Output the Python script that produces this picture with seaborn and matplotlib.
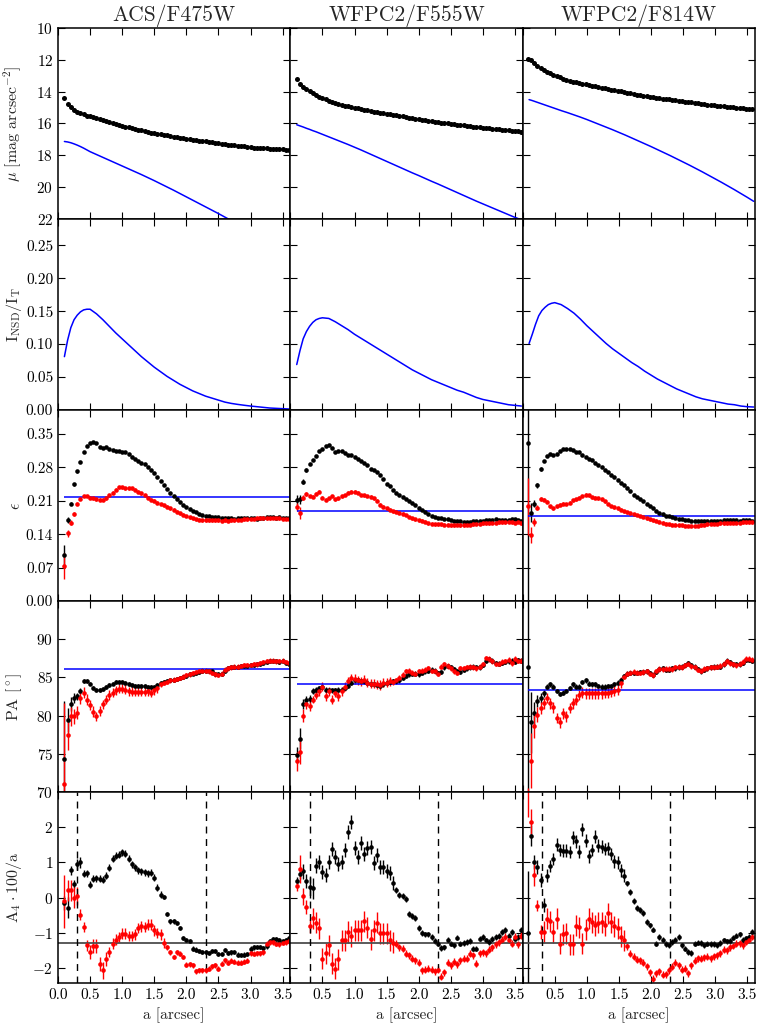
import numpy as np
import matplotlib
matplotlib.use('Agg')
import matplotlib.pyplot as plt
import seaborn as sns
from matplotlib.ticker import FormatStrFormatter

# ---------------- data ----------------
titles = ['ACS/F475W', 'WFPC2/F555W', 'WFPC2/F814W']

# isophote semi-major axes [arcsec]
a_acs = np.round(np.arange(0.10, 3.601, 0.05), 2)
a_f555 = np.round(np.arange(0.10, 3.601, 0.05), 2)
a_f814 = np.round(np.arange(0.08, 3.581, 0.05), 2)
a_model = [0.10, 0.15, 0.20, 0.25, 0.30, 0.35, 0.40, 0.45, 0.50,
           0.6, 0.7, 0.8, 0.9, 1.0, 1.1, 1.2, 1.3, 1.4, 1.5,
           1.6, 1.7, 1.8, 1.9, 2.0, 2.1, 2.2, 2.3, 2.4, 2.5,
           2.6, 2.7, 2.8, 2.9, 3.0, 3.1, 3.2, 3.3, 3.4, 3.5, 3.6]

# surface brightness
mu_acs = [14.40, 14.78, 14.98, 15.13, 15.25, 15.35, 15.43, 15.50, 15.56, 15.62,
          15.68, 15.74, 15.80, 15.86, 15.92, 15.98, 16.03, 16.09, 16.14, 16.19,
          16.24, 16.29, 16.34, 16.39, 16.43, 16.48, 16.52, 16.57, 16.61, 16.65,
          16.68, 16.72, 16.75, 16.79, 16.82, 16.86, 16.89, 16.93, 16.96, 16.99,
          17.02, 17.05, 17.08, 17.10, 17.13, 17.16, 17.19, 17.21, 17.24, 17.27,
          17.29, 17.32, 17.34, 17.37, 17.39, 17.42, 17.44, 17.47, 17.49, 17.51,
          17.52, 17.54, 17.55, 17.57, 17.58, 17.60, 17.61, 17.62, 17.63, 17.64,
          17.65]
mu_f555 = [13.19, 13.50, 13.70, 13.86, 13.99, 14.11, 14.22, 14.32, 14.41, 14.49,
           14.56, 14.63, 14.70, 14.76, 14.81, 14.87, 14.92, 14.97, 15.01, 15.05,
           15.09, 15.13, 15.17, 15.21, 15.25, 15.28, 15.32, 15.35, 15.39, 15.42,
           15.46, 15.49, 15.53, 15.56, 15.60, 15.63, 15.66, 15.70, 15.73, 15.76,
           15.79, 15.82, 15.85, 15.88, 15.91, 15.94, 15.97, 15.99, 16.02, 16.05,
           16.07, 16.10, 16.12, 16.15, 16.17, 16.20, 16.22, 16.25, 16.27, 16.29,
           16.31, 16.33, 16.35, 16.37, 16.39, 16.41, 16.43, 16.45, 16.47, 16.49,
           16.51]
mu_f814 = [11.97, 12.04, 12.22, 12.40, 12.53, 12.64, 12.75, 12.85, 12.95, 13.04,
           13.11, 13.18, 13.25, 13.31, 13.37, 13.42, 13.47, 13.51, 13.55, 13.59,
           13.63, 13.67, 13.71, 13.75, 13.79, 13.83, 13.87, 13.91, 13.95, 13.99,
           14.03, 14.07, 14.10, 14.14, 14.18, 14.21, 14.25, 14.28, 14.31, 14.34,
           14.37, 14.40, 14.43, 14.46, 14.49, 14.52, 14.55, 14.58, 14.61, 14.63,
           14.66, 14.68, 14.71, 14.73, 14.76, 14.78, 14.81, 14.83, 14.86, 14.88,
           14.90, 14.92, 14.94, 14.96, 14.98, 15.00, 15.02, 15.04, 15.06, 15.08,
           15.10]

# nuclear disc model surface brightness
mu_nsd_acs = [17.13, 17.16, 17.21, 17.28, 17.36, 17.45, 17.55, 17.66, 17.77,
              17.95, 18.13, 18.31, 18.49, 18.67, 18.85, 19.03, 19.21, 19.40, 19.59,
              19.79, 19.99, 20.19, 20.40, 20.61, 20.82, 21.03, 21.24, 21.45, 21.66,
              21.88, 22.10, 22.32, 22.54, 22.76, 22.98, 23.20, 23.42, 23.64, 23.86, 24.08]
mu_nsd_f555 = [16.08, 16.15, 16.22, 16.30, 16.37, 16.45, 16.52, 16.60, 16.68,
               16.84, 17.00, 17.16, 17.32, 17.49, 17.66, 17.84, 18.02, 18.20, 18.38,
               18.56, 18.74, 18.92, 19.10, 19.27, 19.45, 19.63, 19.80, 19.98, 20.16,
               20.34, 20.52, 20.70, 20.88, 21.05, 21.22, 21.39, 21.56, 21.73, 21.90, 22.05]
mu_nsd_f814 = [14.50, 14.56, 14.63, 14.70, 14.77, 14.84, 14.91, 14.98, 15.05,
               15.19, 15.32, 15.46, 15.60, 15.75, 15.91, 16.07, 16.23, 16.39, 16.56,
               16.73, 16.91, 17.09, 17.27, 17.45, 17.64, 17.83, 18.02, 18.22, 18.42,
               18.62, 18.83, 19.04, 19.26, 19.48, 19.70, 19.93, 20.16, 20.40, 20.64, 20.89]

# I_NSD / I_T
ratio_acs = [0.081, 0.106, 0.125, 0.137, 0.144, 0.149, 0.152, 0.153, 0.153,
             0.146, 0.137, 0.127, 0.117, 0.108, 0.099, 0.090, 0.081, 0.073, 0.065,
             0.058, 0.051, 0.045, 0.039, 0.034, 0.029, 0.025, 0.021, 0.018, 0.015,
             0.012, 0.010, 0.0085, 0.0072, 0.0060, 0.0050, 0.0040, 0.0030, 0.0025, 0.0020, 0.0015]
ratio_f555 = [0.069, 0.090, 0.108, 0.119, 0.127, 0.133, 0.137, 0.139, 0.140,
              0.139, 0.134, 0.128, 0.122, 0.115, 0.109, 0.103, 0.097, 0.091, 0.085,
              0.079, 0.073, 0.067, 0.061, 0.056, 0.051, 0.046, 0.042, 0.038, 0.034,
              0.030, 0.027, 0.023, 0.019, 0.016, 0.014, 0.012, 0.010, 0.008, 0.007, 0.006]
ratio_f814 = [0.101, 0.115, 0.130, 0.143, 0.151, 0.156, 0.160, 0.162, 0.163,
              0.160, 0.154, 0.147, 0.138, 0.128, 0.119, 0.110, 0.101, 0.093, 0.086,
              0.079, 0.072, 0.066, 0.059, 0.053, 0.047, 0.042, 0.037, 0.032, 0.028,
              0.024, 0.020, 0.017, 0.015, 0.013, 0.011, 0.009, 0.008, 0.006, 0.005, 0.0045]

# ellipticity: galaxy (black) and galaxy minus disc (red)
eps_acs_k = [0.096, 0.169, 0.204, 0.244, 0.272, 0.291, 0.312, 0.325, 0.330, 0.332,
             0.330, 0.322, 0.321, 0.322, 0.319, 0.317, 0.315, 0.314, 0.313, 0.311,
             0.307, 0.302, 0.298, 0.294, 0.290, 0.287, 0.280, 0.274, 0.268, 0.260,
             0.251, 0.242, 0.234, 0.227, 0.220, 0.213, 0.207, 0.202, 0.197, 0.193,
             0.189, 0.186, 0.183, 0.180, 0.178, 0.177, 0.176, 0.176, 0.175, 0.174,
             0.173, 0.174, 0.173, 0.172, 0.174, 0.174, 0.173, 0.173, 0.173, 0.173,
             0.172, 0.173, 0.174, 0.175, 0.175, 0.175, 0.174, 0.175, 0.174, 0.174,
             0.173]
eps_acs_r = [0.073, 0.142, 0.164, 0.183, 0.204, 0.214, 0.220, 0.220, 0.216, 0.215,
             0.213, 0.212, 0.212, 0.215, 0.222, 0.227, 0.233, 0.238, 0.238, 0.236,
             0.236, 0.236, 0.233, 0.229, 0.226, 0.222, 0.216, 0.212, 0.210, 0.206,
             0.203, 0.200, 0.197, 0.194, 0.191, 0.187, 0.184, 0.181, 0.178, 0.175,
             0.173, 0.171, 0.170, 0.169, 0.169, 0.169, 0.169, 0.169, 0.169, 0.168,
             0.169, 0.168, 0.169, 0.169, 0.170, 0.170, 0.171, 0.171, 0.172, 0.172,
             0.173, 0.173, 0.173, 0.173, 0.173, 0.174, 0.173, 0.173, 0.172, 0.172,
             0.172]
eps_f555_k = [0.212, 0.213, 0.250, 0.274, 0.286, 0.296, 0.304, 0.315, 0.319, 0.324,
              0.326, 0.320, 0.313, 0.315, 0.315, 0.310, 0.305, 0.306, 0.301, 0.297,
              0.293, 0.289, 0.285, 0.277, 0.274, 0.271, 0.263, 0.255, 0.246, 0.240,
              0.233, 0.227, 0.221, 0.217, 0.214, 0.210, 0.205, 0.200, 0.195, 0.190,
              0.186, 0.182, 0.178, 0.175, 0.174, 0.173, 0.172, 0.171, 0.170, 0.168,
              0.168, 0.167, 0.166, 0.165, 0.166, 0.167, 0.168, 0.168, 0.168, 0.169,
              0.169, 0.170, 0.171, 0.170, 0.170, 0.170, 0.170, 0.171, 0.171, 0.170,
              0.168]
eps_f555_r = [0.197, 0.184, 0.216, 0.224, 0.220, 0.218, 0.225, 0.229, 0.216, 0.212,
              0.215, 0.220, 0.213, 0.215, 0.219, 0.222, 0.227, 0.229, 0.229, 0.227,
              0.222, 0.221, 0.220, 0.218, 0.215, 0.210, 0.202, 0.197, 0.194, 0.191,
              0.188, 0.187, 0.185, 0.183, 0.180, 0.176, 0.173, 0.171, 0.169, 0.168,
              0.166, 0.163, 0.162, 0.161, 0.161, 0.161, 0.160, 0.160, 0.159, 0.159,
              0.160, 0.159, 0.159, 0.160, 0.160, 0.161, 0.162, 0.162, 0.163, 0.163,
              0.163, 0.164, 0.164, 0.165, 0.165, 0.165, 0.166, 0.165, 0.164, 0.166,
              0.163]
eps_f814_k = [0.330, 0.185, 0.204, 0.242, 0.276, 0.293, 0.303, 0.307, 0.305, 0.308,
              0.315, 0.318, 0.318, 0.318, 0.316, 0.313, 0.311, 0.306, 0.302, 0.298,
              0.295, 0.289, 0.285, 0.281, 0.275, 0.270, 0.264, 0.259, 0.253, 0.247,
              0.242, 0.236, 0.230, 0.223, 0.218, 0.214, 0.209, 0.204, 0.199, 0.194,
              0.189, 0.185, 0.182, 0.179, 0.177, 0.176, 0.174, 0.172, 0.171, 0.170,
              0.169, 0.168, 0.167, 0.167, 0.167, 0.167, 0.168, 0.168, 0.168, 0.168,
              0.168, 0.169, 0.169, 0.169, 0.169, 0.169, 0.168, 0.169, 0.169, 0.169,
              0.168]
eps_f814_r = [0.198, 0.138, 0.166, 0.195, 0.213, 0.212, 0.208, 0.198, 0.194, 0.198,
              0.202, 0.204, 0.203, 0.206, 0.211, 0.213, 0.216, 0.220, 0.223, 0.221,
              0.217, 0.216, 0.215, 0.213, 0.209, 0.203, 0.199, 0.196, 0.194, 0.191,
              0.188, 0.186, 0.184, 0.182, 0.180, 0.178, 0.176, 0.173, 0.171, 0.169,
              0.168, 0.166, 0.164, 0.162, 0.161, 0.160, 0.160, 0.159, 0.159, 0.158,
              0.157, 0.157, 0.157, 0.158, 0.159, 0.160, 0.161, 0.162, 0.162, 0.162,
              0.163, 0.163, 0.163, 0.164, 0.164, 0.164, 0.164, 0.165, 0.165, 0.165,
              0.165]
eps_err_acs_k = [0.022, 0.006, 0.004, 0.003, 0.003] + [0.002] * 66
eps_err_acs_r = [0.027, 0.007, 0.005, 0.004, 0.003] + [0.003] * 66
eps_err_f555_k = [0.010, 0.010, 0.005, 0.004] + [0.002] * 67
eps_err_f555_r = [0.008, 0.012, 0.005, 0.004] + [0.003] * 67
eps_err_f814_k = [0.45, 0.020, 0.008, 0.005, 0.004] + [0.002] * 66
eps_err_f814_r = [0.060, 0.016, 0.008, 0.005, 0.004] + [0.003] * 66

# position angle [deg]
pa_acs_k = [74.3, 79.4, 81.5, 82.3, 82.5, 83.2, 84.5, 84.5, 84.2, 83.6,
            83.4, 83.4, 83.5, 83.7, 84.0, 84.2, 84.4, 84.4, 84.4, 84.3,
            84.1, 84.0, 83.9, 83.9, 83.9, 83.9, 83.8, 83.7, 83.7, 84.0,
            84.3, 84.4, 84.5, 84.6, 84.7, 84.8, 84.9, 85.0, 85.2, 85.4,
            85.5, 85.6, 85.7, 85.8, 85.9, 85.9, 85.8, 85.5, 85.4, 85.4,
            85.8, 86.2, 86.3, 86.3, 86.4, 86.5, 86.5, 86.5, 86.6, 86.6,
            86.7, 86.8, 86.9, 87.0, 87.1, 87.1, 87.1, 87.0, 87.1, 86.9,
            86.8]
pa_acs_r = [71.1, 77.5, 79.9, 79.9, 80.4, 82.3, 83.0, 82.1, 81.4, 80.5,
            79.9, 80.6, 81.5, 82.1, 82.7, 83.0, 83.3, 83.5, 83.5, 83.4,
            83.2, 83.1, 83.1, 83.1, 83.1, 83.1, 83.2, 83.0, 83.3, 83.6,
            84.1, 84.3, 84.4, 84.6, 84.7, 84.8, 84.9, 85.1, 85.3, 85.4,
            85.6, 85.7, 85.8, 85.9, 85.9, 85.8, 85.6, 85.4, 85.3, 85.5,
            86.0, 86.2, 86.3, 86.4, 86.4, 86.5, 86.6, 86.6, 86.6, 86.7,
            86.7, 86.9, 87.0, 87.1, 87.2, 87.2, 87.1, 87.1, 87.2, 87.0,
            86.9]
pa_f555_k = [74.9, 77.0, 81.5, 82.1, 82.2, 83.2, 83.3, 83.6, 83.8, 83.4,
             83.3, 83.3, 83.3, 83.4, 83.4, 83.6, 83.9, 84.3, 84.6, 84.6,
             84.5, 84.5, 84.3, 84.2, 84.1, 84.0, 83.9, 84.1, 84.3, 84.4,
             84.5, 84.5, 84.6, 84.9, 85.2, 85.4, 85.5, 85.5, 85.4, 85.6,
             85.8, 85.9, 86.0, 85.9, 85.6, 85.7, 86.3, 86.5, 86.3, 86.1,
             85.8, 85.7, 86.0, 86.2, 86.3, 86.4, 86.3, 86.3, 86.6, 87.2,
             87.4, 87.2, 86.9, 86.8, 86.9, 87.0, 87.1, 87.2, 87.0, 87.3,
             87.2]
pa_f555_r = [74.0, 75.2, 80.0, 81.5, 81.2, 82.1, 82.7, 83.2, 83.8, 82.5,
             83.2, 82.1, 83.0, 82.5, 83.2, 83.8, 84.5, 84.9, 84.8, 84.6,
             84.5, 84.7, 84.3, 84.2, 84.2, 84.1, 84.0, 84.3, 84.3, 84.5,
             84.4, 84.6, 84.9, 85.3, 85.8, 85.9, 85.6, 85.5, 85.8, 85.9,
             86.0, 86.2, 85.9, 85.8, 85.5, 86.4, 86.7, 86.5, 86.2, 85.8,
             85.6, 86.2, 86.2, 86.3, 86.4, 86.3, 86.2, 86.4, 86.7, 87.5,
             87.4, 87.1, 86.8, 86.8, 87.0, 87.1, 87.3, 86.9, 87.4, 87.2,
             87.2]
pa_f814_k = [86.3, 79.1, 80.3, 81.9, 82.3, 82.9, 83.8, 84.1, 83.8, 83.2,
             82.8, 83.0, 83.2, 83.6, 84.1, 83.8, 83.8, 84.4, 84.6, 84.2,
             84.1, 84.1, 83.9, 83.8, 83.8, 83.9, 83.9, 84.1, 84.3, 84.6,
             85.2, 85.5, 85.6, 85.6, 85.6, 85.7, 85.7, 85.8, 85.6, 85.3,
             85.7, 86.1, 86.2, 86.0, 86.0, 86.2, 86.2, 86.3, 86.4, 86.6,
             86.9, 86.6, 86.4, 86.1, 85.8, 86.0, 86.2, 86.3, 86.4, 86.4,
             86.4, 86.7, 87.2, 87.0, 86.7, 86.7, 86.7, 86.9, 87.3, 87.3,
             87.2]
pa_f814_r = [66.0, 74.1, 78.6, 80.1, 81.0, 81.6, 82.3, 81.6, 81.1, 79.7,
             79.1, 80.3, 79.9, 81.0, 81.6, 82.1, 82.7, 83.0, 82.9, 82.9,
             82.9, 82.9, 82.9, 82.9, 83.0, 83.0, 83.1, 83.2, 83.4, 84.3,
             85.1, 85.5, 85.6, 85.7, 85.6, 85.6, 85.7, 85.8, 85.5, 85.3,
             85.8, 86.1, 86.1, 86.1, 86.1, 86.1, 86.3, 86.4, 86.3, 86.6,
             86.8, 86.5, 86.3, 86.0, 85.9, 86.1, 86.2, 86.3, 86.3, 86.4,
             86.5, 86.8, 87.1, 86.9, 86.7, 86.6, 86.8, 87.0, 87.4, 87.4,
             87.3]
pa_err_acs_k = [7.6, 1.6, 0.9, 0.6, 0.5, 0.4] + [0.25] * 65
pa_err_acs_r = [10.5, 2.0, 1.2, 1.0, 0.9, 0.8, 0.7, 0.7, 0.7, 0.7] + [0.6] * 20 + [0.3] * 41
pa_err_f555_k = [1.0, 1.4, 0.7, 0.5, 0.5, 0.4, 0.4] + [0.3] * 64
pa_err_f555_r = [1.2, 1.6, 0.8, 0.6, 0.6, 0.5, 0.5] + [0.6] * 23 + [0.35] * 41
pa_err_f814_k = [18.0, 4.0, 1.5, 0.8, 0.6, 0.5] + [0.3] * 65
pa_err_f814_r = [4.5, 3.6, 1.5, 1.0, 0.8, 0.7] + [0.7] * 24 + [0.35] * 41

# A4 * 100 / a
a4_acs_k = [-0.16, -0.29, 0.77, 0.39, 0.94, 1.00, 0.67, 0.69, 0.36, 0.53,
            0.55, 0.53, 0.50, 0.62, 0.84, 1.10, 1.19, 1.22, 1.29, 1.24,
            1.10, 0.95, 0.86, 0.78, 0.74, 0.72, 0.69, 0.70, 0.56, 0.28,
            0.08, 0.01, -0.46, -0.68, -0.68, -0.72, -0.86, -1.14, -1.20, -1.24,
            -1.45, -1.48, -1.52, -1.55, -1.55, -1.58, -1.52, -1.52, -1.61, -1.60,
            -1.50, -1.57, -1.56, -1.55, -1.62, -1.64, -1.62, -1.60, -1.45, -1.42,
            -1.41, -1.41, -1.44, -1.39, -1.25, -1.18, -1.18, -1.22, -1.25, -1.20,
            -1.16]
a4_acs_r = [-0.11, 0.20, 0.20, 0.00, 0.05, -0.49, -0.84, -1.36, -1.55, -1.39,
            -1.39, -1.88, -2.07, -1.74, -1.55, -1.31, -1.20, -1.12, -1.03, -1.03,
            -1.10, -1.10, -1.05, -0.86, -0.82, -0.84, -0.77, -0.77, -0.93, -1.01,
            -1.05, -1.29, -1.41, -1.55, -1.69, -1.55, -1.60, -1.69, -1.91, -1.90,
            -1.93, -2.10, -2.07, -2.07, -2.07, -2.02, -1.95, -1.93, -2.02, -1.88,
            -1.79, -1.86, -1.80, -1.83, -1.86, -1.86, -1.83, -1.80, -1.58, -1.60,
            -1.58, -1.58, -1.55, -1.31, -1.27, -1.27, -1.31, -1.33, -1.29, -1.27,
            -1.24]
a4_f555_k = [0.46, 0.67, 0.74, 0.46, 0.29, 0.26, 0.91, 1.00, 0.72, 0.65,
             1.00, 1.38, 1.14, 0.95, 1.00, 1.34, 1.85, 2.16, 1.42, 1.16,
             1.54, 1.24, 1.42, 1.44, 0.97, 1.20, 0.88, 0.88, 0.75, 0.69,
             0.40, 0.21, 0.08, 0.05, -0.05, -0.47, -0.52, -0.59, -0.86, -1.01,
             -1.05, -1.05, -1.12, -1.24, -1.31, -1.43, -1.42, -1.20, -1.31, -1.36,
             -1.14, -1.31, -1.29, -1.27, -1.24, -1.45, -1.45, -1.17, -1.12, -1.22,
             -1.27, -1.18, -1.12, -1.10, -0.98, -0.93, -1.08, -0.98, -1.17, -1.12,
             -0.93]
a4_f555_r = [0.34, 0.80, 0.03, -0.26, -0.82, -0.59, -0.72, -0.87, -1.74, -1.58,
             -1.36, -1.88, -2.02, -1.76, -1.22, -1.22, -0.98, -1.10, -0.93, -0.93,
             -0.93, -0.67, -0.86, -1.19, -0.93, -0.72, -1.01, -1.01, -1.01, -1.22,
             -1.29, -1.31, -1.41, -1.45, -1.60, -1.64, -1.74, -1.79, -1.86, -2.07,
             -2.05, -2.02, -2.05, -2.09, -2.05, -2.25, -2.12, -1.86, -1.93, -1.83,
             -1.90, -1.79, -1.74, -1.74, -1.60, -1.64, -1.88, -1.58, -1.55, -1.58,
             -1.48, -1.41, -1.33, -1.27, -1.20, -1.12, -1.20, -1.31, -1.12, -1.33,
             -1.08]
a4_f814_k = [-1.00, 1.76, 1.02, 0.86, 0.50, -0.20, 0.62, 0.90, 1.10, 1.50,
             1.35, 1.33, 1.33, 1.29, 1.71, 1.60, 1.30, 1.94, 1.62, 1.17,
             1.35, 1.73, 1.47, 1.45, 1.38, 1.40, 1.24, 1.03, 1.00, 0.77,
             0.62, 0.40, 0.15, -0.09, -0.30, -0.35, -0.44, -0.70, -0.79, -0.91,
             -1.31, -1.12, -1.20, -1.33, -1.36, -1.27, -1.20, -1.12, -1.36, -1.45,
             -1.55, -1.58, -1.31, -1.28, -1.29, -1.36, -1.31, -1.33, -1.33, -1.36,
             -1.30, -1.22, -1.25, -1.24, -1.14, -1.08, -1.05, -1.20, -1.16, -1.12,
             -0.98]
a4_f814_r = [3.20, 2.16, 0.64, -0.23, -0.98, -0.98, -0.60, -0.68, -0.98, -0.60,
             -1.31, -1.05, -1.01, -1.33, -1.33, -0.80, -0.84, -1.31, -0.90, -0.60,
             -0.70, -0.79, -0.72, -0.70, -0.79, -0.45, -0.70, -0.82, -0.87, -1.12,
             -1.22, -1.38, -1.60, -1.68, -1.77, -1.79, -1.86, -1.95, -2.12, -2.31,
             -2.15, -2.09, -2.20, -2.18, -2.07, -1.97, -1.85, -1.93, -2.05, -2.02,
             -2.15, -1.93, -1.80, -1.72, -1.74, -1.70, -1.69, -1.72, -1.67, -1.64,
             -1.58, -1.49, -1.50, -1.42, -1.37, -1.31, -1.30, -1.35, -1.26, -1.20,
             -1.12]
a4_err_acs_k = [0.20, 0.30, 0.12, 0.12, 0.15, 0.15] + [0.10] * 25 + [0.06] * 40
a4_err_acs_r = [0.75, 0.30, 0.30, 0.30, 0.25, 0.15, 0.15, 0.15, 0.20, 0.20,
                0.20, 0.20, 0.25, 0.20] + [0.15] * 18 + [0.07] * 39
a4_err_f555_k = [0.12, 0.15, 0.20, 0.20, 0.30, 0.30] + [0.20] * 25 + [0.08] * 40
a4_err_f555_r = [0.15, 0.40, 0.25, 0.20, 0.20, 0.30] + [0.30] * 25 + [0.10] * 40
a4_err_f814_k = [1.75, 0.30, 0.20, 0.20, 0.20, 0.20] + [0.18] * 25 + [0.08] * 40
a4_err_f814_r = [0.90, 0.35, 0.30, 0.15, 0.20, 0.30] + [0.30] * 25 + [0.10] * 40

# fitted disc ellipticity / PA, A4 reference level, disc region limits
eps_disc = [0.218, 0.189, 0.178]
pa_disc = [86.05, 84.15, 83.4]
a4_level = -1.3
disc_region = [0.3, 2.3]

# ---------------- style ----------------
sns.set_style('ticks')
plt.rcParams.update({
    'font.family': 'serif',
    'font.serif': ['cmr10'],
    'mathtext.fontset': 'cm',
    'axes.formatter.use_mathtext': True,
    'axes.unicode_minus': True,
    'axes.edgecolor': 'black',
    'axes.linewidth': 1.1,
    'xtick.direction': 'in',
    'ytick.direction': 'in',
    'xtick.top': True,
    'ytick.right': True,
    'xtick.major.size': 5,
    'ytick.major.size': 5,
    'xtick.major.width': 0.8,
    'ytick.major.width': 0.8,
    'xtick.color': 'black',
    'ytick.color': 'black',
    'xtick.labelsize': 11,
    'ytick.labelsize': 11,
})

cols = [
    dict(a=a_acs, mu=mu_acs, mu_nsd=mu_nsd_acs, ratio=ratio_acs,
         eps=(eps_acs_k, eps_err_acs_k, eps_acs_r, eps_err_acs_r),
         pa=(pa_acs_k, pa_err_acs_k, pa_acs_r, pa_err_acs_r),
         a4=(a4_acs_k, a4_err_acs_k, a4_acs_r, a4_err_acs_r)),
    dict(a=a_f555, mu=mu_f555, mu_nsd=mu_nsd_f555, ratio=ratio_f555,
         eps=(eps_f555_k, eps_err_f555_k, eps_f555_r, eps_err_f555_r),
         pa=(pa_f555_k, pa_err_f555_k, pa_f555_r, pa_err_f555_r),
         a4=(a4_f555_k, a4_err_f555_k, a4_f555_r, a4_err_f555_r)),
    dict(a=a_f814, mu=mu_f814, mu_nsd=mu_nsd_f814, ratio=ratio_f814,
         eps=(eps_f814_k, eps_err_f814_k, eps_f814_r, eps_err_f814_r),
         pa=(pa_f814_k, pa_err_f814_k, pa_f814_r, pa_err_f814_r),
         a4=(a4_f814_k, a4_err_f814_k, a4_f814_r, a4_err_f814_r)),
]

x_max = 3.62
fig, axes = plt.subplots(5, 3, figsize=(7.63, 10.29), dpi=100)
fig.subplots_adjust(left=0.076, right=0.9895, top=0.9728, bottom=0.0447,
                    wspace=0, hspace=0)


def err_points(ax, a, vals, errs, color):
    ax.errorbar(a, vals, yerr=errs, fmt='o', color=color, ecolor=color,
                ms=3.3, mew=0, elinewidth=1.0, capsize=0)


for j, c in enumerate(cols):
    a = c['a']
    # row 1: surface brightness
    ax = axes[0, j]
    sns.scatterplot(x=a, y=c['mu'], ax=ax, color='black', s=13, linewidth=0)
    sns.lineplot(x=a_model, y=c['mu_nsd'], ax=ax, color='blue', linewidth=1.1)
    ax.set_ylim(22, 10)
    ax.set_yticks([10, 12, 14, 16, 18, 20, 22])
    ax.set_title(titles[j], fontsize=15.5, pad=5)

    # row 2: disc-to-total ratio
    ax = axes[1, j]
    sns.lineplot(x=a_model, y=c['ratio'], ax=ax, color='blue', linewidth=1.1)
    ax.set_ylim(0, 0.29)
    ax.set_yticks([0, 0.05, 0.10, 0.15, 0.20, 0.25])
    ax.yaxis.set_major_formatter(FormatStrFormatter('%.2f'))

    # row 3: ellipticity
    ax = axes[2, j]
    k, ke, r, re = c['eps']
    err_points(ax, a, k, ke, 'black')
    err_points(ax, a, r, re, 'red')
    ax.hlines(eps_disc[j], a[0], x_max, color='blue', linewidth=1.1)
    ax.set_ylim(0, 0.40)
    ax.set_yticks([0, 0.07, 0.14, 0.21, 0.28, 0.35])
    ax.yaxis.set_major_formatter(FormatStrFormatter('%.2f'))

    # row 4: position angle
    ax = axes[3, j]
    k, ke, r, re = c['pa']
    err_points(ax, a, k, ke, 'black')
    err_points(ax, a, r, re, 'red')
    ax.hlines(pa_disc[j], a[0], x_max, color='blue', linewidth=1.1)
    ax.set_ylim(70, 95)
    ax.set_yticks([70, 75, 80, 85, 90])

    # row 5: A4 coefficient
    ax = axes[4, j]
    k, ke, r, re = c['a4']
    err_points(ax, a, k, ke, 'black')
    err_points(ax, a, r, re, 'red')
    ax.axhline(a4_level, color='0.3', linewidth=1.3)
    for xv in disc_region:
        ax.axvline(xv, color='black', linestyle='--', linewidth=1.0, dashes=(5, 4))
    ax.set_ylim(-2.43, 3.0)
    ax.set_yticks([-2, -1, 0, 1, 2])

xt = [0.0, 0.5, 1.0, 1.5, 2.0, 2.5, 3.0, 3.5]
for i in range(5):
    for j in range(3):
        ax = axes[i, j]
        ax.set_xlim(0, x_max)
        ax.set_xticks(xt)
        ax.set_xlabel('')
        ax.set_ylabel('')
        if i < 4:
            ax.tick_params(labelbottom=False)
        else:
            labels = ['%.1f' % v for v in xt]
            if j > 0:
                labels[0] = ''
            ax.set_xticklabels(labels)
            ax.set_xlabel('a [arcsec]', fontsize=11)
        if j > 0:
            ax.tick_params(labelleft=False)

ylabels = [r'$\mu$ [mag arcsec$^{-2}$]', r'I$_{\rm NSD}$/I$_{\rm T}$',
           r'$\epsilon$', r'PA [$^\circ$]', r'A$_4\cdot$100/a']
for i, lab in enumerate(ylabels):
    axes[i, 0].set_ylabel(lab, fontsize=11.5, labelpad=1.5)
fig.align_ylabels(axes[:, 0])

fig.savefig('out.png', dpi=100)
